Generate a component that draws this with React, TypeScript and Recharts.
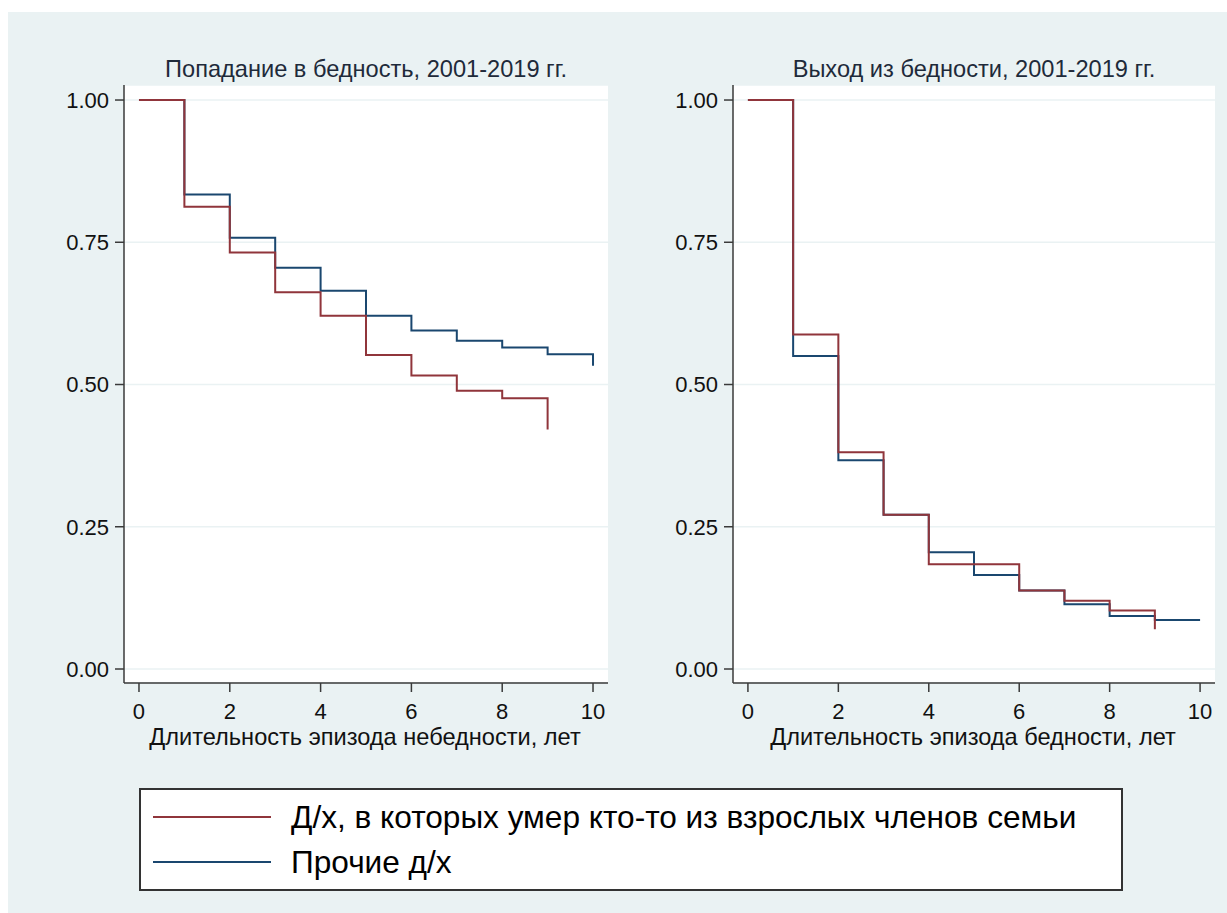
import React from "react";
import { LineChart, Line, XAxis, YAxis, CartesianGrid } from "recharts";

// duration in years (x axis)
const years = [0, 1, 2, 3, 4, 5, 6, 7, 8, 9, 10];

// Kaplan-Meier survival estimates
const entryDeath = [1.0, 0.8125, 0.732, 0.662, 0.621, 0.552, 0.516, 0.489, 0.476, 0.421];
const entryOther = [1.0, 0.834, 0.758, 0.705, 0.665, 0.621, 0.595, 0.577, 0.565, 0.553, 0.533];
const exitDeath = [1.0, 0.588, 0.381, 0.271, 0.184, 0.184, 0.138, 0.12, 0.103, 0.07];
const exitOther = [1.0, 0.55, 0.367, 0.271, 0.205, 0.165, 0.138, 0.114, 0.093, 0.086, 0.086];

const xTicks = [0, 2, 4, 6, 8, 10];
const yTicks = [0, 0.25, 0.5, 0.75, 1];

const panelTitles = ["Попадание в бедность, 2001-2019 гг.", "Выход из бедности, 2001-2019 гг."];
const axisTitles = ["Длительность эпизода небедности, лет", "Длительность эпизода бедности, лет"];
const seriesNames = ["Д/х, в которых умер кто-то из взрослых членов семьи", "Прочие д/х"];

const RED = "#90353B";
const BLUE = "#1A476F";
const BG = "#EAF2F3";
const AXIS = "#3a3a3a";
const FONT = "'Liberation Sans', Arial, sans-serif";

const buildRows = (death: number[], other: number[]) =>
  years.map((t, i) => ({
    t,
    death: i < death.length ? death[i] : null,
    other: i < other.length ? other[i] : null,
  }));

type PanelProps = {
  rows: any[];
  left: number;
  yAxisWidth: number;
  width: number;
};

const Panel = ({ rows, left, yAxisWidth, width }: PanelProps) => (
  <div style={{ position: "absolute", left, top: 60 }}>
    <LineChart
      width={width}
      height={700}
      data={rows}
      margin={{ top: 13, right: 12, left: 0, bottom: 29 }}
    >
      <CartesianGrid vertical={false} fill="#fff" stroke={BG} strokeWidth={1.5} />
      <XAxis
        dataKey="t"
        type="number"
        domain={[-0.33, 10.33]}
        ticks={xTicks}
        allowDataOverflow
        height={60}
        tickSize={9}
        tickMargin={11}
        stroke={AXIS}
        strokeWidth={1.5}
        tick={{ fill: "#111", fontSize: 22, fontFamily: FONT }}
      />
      <YAxis
        type="number"
        domain={[-0.0246, 1.0264]}
        ticks={yTicks}
        allowDataOverflow
        width={yAxisWidth}
        tickSize={9}
        tickMargin={6}
        stroke={AXIS}
        strokeWidth={1.5}
        tickFormatter={(v: number) => v.toFixed(2)}
        tick={{ fill: "#111", fontSize: 22, fontFamily: FONT }}
      />
      <Line
        type="stepAfter"
        dataKey="other"
        stroke={BLUE}
        strokeWidth={2}
        dot={false}
        isAnimationActive={false}
      />
      <Line
        type="stepAfter"
        dataKey="death"
        stroke={RED}
        strokeWidth={2}
        dot={false}
        isAnimationActive={false}
      />
    </LineChart>
  </div>
);

const textStyle = {
  position: "absolute" as const,
  fontFamily: FONT,
  whiteSpace: "nowrap" as const,
  transform: "translate(-50%, -50%)",
};

const App = () => {
  const entryRows = buildRows(entryDeath, entryOther);
  const exitRows = buildRows(exitDeath, exitOther);

  return (
    <div
      style={{
        position: "absolute",
        left: 8,
        top: 12,
        width: 1219,
        height: 901,
        background: BG,
        overflow: "hidden",
      }}
    >
      <div style={{ ...textStyle, left: 358, top: 57, fontSize: 23.6, color: "#1e2a3a" }}>
        {panelTitles[0]}
      </div>
      <div style={{ ...textStyle, left: 966, top: 57, fontSize: 23.6, color: "#1e2a3a" }}>
        {panelTitles[1]}
      </div>

      <Panel rows={entryRows} left={0} yAxisWidth={116} width={612} />
      <Panel rows={exitRows} left={612} yAxisWidth={113} width={607} />

      <div style={{ ...textStyle, left: 357, top: 725, fontSize: 23.6, color: "#111" }}>
        {axisTitles[0]}
      </div>
      <div style={{ ...textStyle, left: 965, top: 725, fontSize: 23.6, color: "#111" }}>
        {axisTitles[1]}
      </div>

      <div
        style={{
          position: "absolute",
          left: 131,
          top: 776,
          width: 980,
          height: 99,
          background: "#fff",
          border: "2px solid #333",
        }}
      >
        {seriesNames.map((name, i) => (
          <div key={name}>
            <div
              style={{
                position: "absolute",
                left: 12,
                top: 26 + i * 45,
                width: 118,
                height: 2,
                background: i === 0 ? RED : BLUE,
              }}
            />
            <div
              style={{
                position: "absolute",
                left: 150,
                top: 27 + i * 45,
                transform: "translateY(-50%)",
                fontFamily: FONT,
                fontSize: 31.6,
                color: "#000",
                whiteSpace: "nowrap",
              }}
            >
              {name}
            </div>
          </div>
        ))}
      </div>
    </div>
  );
};

export default App;
